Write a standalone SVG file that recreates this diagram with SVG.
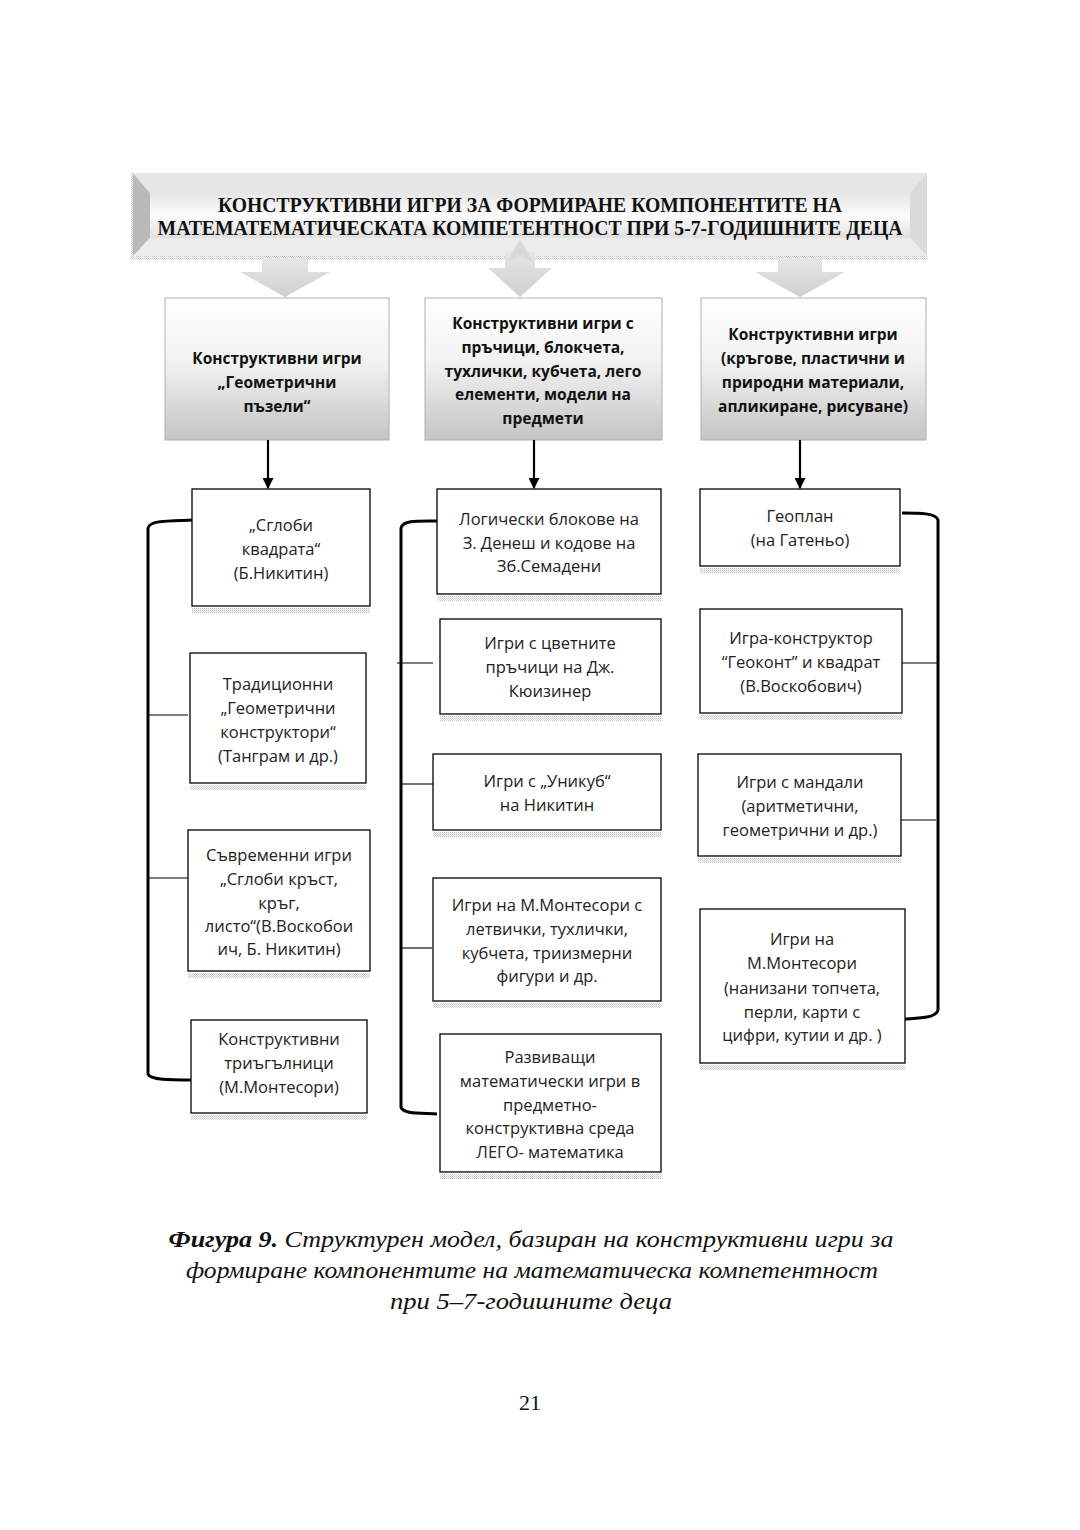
<svg xmlns="http://www.w3.org/2000/svg" width="1080" height="1530" viewBox="0 0 1080 1530">
<defs>
<linearGradient id="hdr" x1="0" y1="0" x2="0" y2="1">
<stop offset="0" stop-color="#ffffff"/><stop offset="0.45" stop-color="#f2f2f2"/><stop offset="1" stop-color="#c4c4c4"/>
</linearGradient>
<linearGradient id="face" x1="0" y1="0" x2="0" y2="1">
<stop offset="0" stop-color="#e6e6e6"/><stop offset="0.5" stop-color="#fcfcfc"/><stop offset="1" stop-color="#e0e0e0"/>
</linearGradient>
<linearGradient id="arr" x1="0" y1="0" x2="0" y2="1">
<stop offset="0" stop-color="#e6e6e6"/><stop offset="1" stop-color="#cfcfcf"/>
</linearGradient>
<pattern id="dots" width="2" height="2" patternUnits="userSpaceOnUse">
<rect width="1" height="1" fill="#8a8a8a"/><rect x="1" y="1" width="1" height="1" fill="#b5b5b5"/>
</pattern>
<marker id="ah" viewBox="0 0 10 10" refX="9" refY="5" markerWidth="5" markerHeight="5" orient="auto" markerUnits="strokeWidth">
<path d="M0,0 L10,5 L0,10 z" fill="#000"/>
</marker>
<style>
.box{fill:#fff;stroke:#000;stroke-width:1.3}
.hbox{fill:url(#hdr);stroke:#b0b0b0;stroke-width:1}
.sh{fill:url(#dots);opacity:0.55}
.t{font-family:"Open Sans","Noto Sans","DejaVu Sans",sans-serif;font-size:16.5px;fill:#222;text-anchor:middle}
.hb{font-family:"Open Sans","Noto Sans","DejaVu Sans",sans-serif;font-size:15.5px;font-weight:bold;fill:#111;text-anchor:middle}
.ban{font-family:"Liberation Serif","Times New Roman",serif;font-size:20px;font-weight:bold;fill:#111;text-anchor:middle}
.cap{font-family:"Liberation Serif","Times New Roman",serif;font-size:23px;font-style:italic;fill:#111;text-anchor:middle}
.br{fill:none;stroke:#000;stroke-width:3}
.tk{fill:none;stroke:#000;stroke-width:1.1}
.ar{fill:none;stroke:#000;stroke-width:2.2}
</style>
</defs>
<rect width="1080" height="1530" fill="#fff"/>

<g id="banner">
<rect x="131" y="256" width="797" height="4" class="sh"/>
<rect x="131" y="172" width="2" height="86" class="sh"/>
<rect x="133" y="173" width="794" height="83" fill="#f4f4f4"/>
<polygon points="133,173 150,193 150,238 133,256" fill="#b9b9b9"/>
<polygon points="133,173 927,173 910,193 150,193" fill="#e6e6e6"/>
<polygon points="927,173 910,193 910,238 927,256" fill="#dadada"/>
<polygon points="133,256 150,238 910,238 927,256" fill="#ececec"/>
<rect x="150" y="193" width="760" height="45" fill="url(#face)"/>
<text class="ban" x="530" y="212" textLength="624" lengthAdjust="spacingAndGlyphs">КОНСТРУКТИВНИ ИГРИ ЗА ФОРМИРАНЕ КОМПОНЕНТИТЕ НА</text>
<text class="ban" x="530" y="235" textLength="745" lengthAdjust="spacingAndGlyphs">МАТЕМАТЕМАТИЧЕСКАТА КОМПЕТЕНТНОСТ ПРИ 5-7-ГОДИШНИТЕ ДЕЦА</text>
</g>

<g id="big-arrows">
<polygon points="262,258 308,258 308,272 330,272 285,297 240,272 262,272" fill="url(#arr)"/>
<polygon points="505,252 535,252 535,268 552,268 520,297 488,268 505,268" fill="url(#arr)"/>
<polygon points="507,262 520,240 533,262 520,256" fill="#d8d8d8"/>
<polygon points="778,258 822,258 822,272 845,272 800,297 755,272 778,272" fill="url(#arr)"/>
</g>

<g id="h1"><rect class="hbox" x="165" y="298" width="224" height="142"/>
<text class="hb" x="277" y="364">Конструктивни игри</text>
<text class="hb" x="277" y="388">„Геометрични</text>
<text class="hb" x="277" y="412">пъзели“</text></g>
<g id="h2"><rect class="hbox" x="425" y="298" width="237" height="142"/>
<text class="hb" x="543" y="329">Конструктивни игри с</text>
<text class="hb" x="543" y="353">пръчици, блокчета,</text>
<text class="hb" x="543" y="377">тухлички, кубчета, лего</text>
<text class="hb" x="543" y="400">елементи, модели на</text>
<text class="hb" x="543" y="424">предмети</text></g>
<g id="h3"><rect class="hbox" x="701" y="298" width="225" height="142"/>
<text class="hb" x="813" y="340">Конструктивни игри</text>
<text class="hb" x="813" y="364">(кръгове, пластични и</text>
<text class="hb" x="813" y="388">природни материали,</text>
<text class="hb" x="813" y="412">апликиране, рисуване)</text></g>

<g id="connectors">
<line class="ar" x1="268" y1="440" x2="268" y2="488" marker-end="url(#ah)"/>
<line class="ar" x1="534" y1="440" x2="534" y2="488" marker-end="url(#ah)"/>
<line class="ar" x1="800" y1="440" x2="800" y2="488" marker-end="url(#ah)"/>
<path class="br" d="M193,520 C170,521 150,520 148,528 L148,1074 C150,1080 170,1080 193,1080"/>
<line class="tk" x1="148" y1="715" x2="188" y2="715"/>
<line class="tk" x1="148" y1="878" x2="188" y2="878"/>
<path class="br" d="M437,521 C418,521 403,520 401,528 L401,1107 C403,1114 418,1113 437,1114"/>
<line class="tk" x1="397" y1="663" x2="433" y2="663"/>
<line class="tk" x1="401" y1="784" x2="433" y2="784"/>
<line class="tk" x1="401" y1="948" x2="432" y2="948"/>
<path class="br" d="M902,513 C920,513 936,513 938,520 L938,1010 C936,1018 920,1018 905,1019"/>
<line class="tk" x1="902" y1="663" x2="938" y2="663"/>
<line class="tk" x1="901" y1="820" x2="936" y2="820"/>
</g>

<g id="l1"><rect class="sh" x="192" y="608" width="178" height="5"/><rect class="box" x="192" y="489" width="178" height="117"/>
<text class="t" x="281" y="531">„Сглоби</text><text class="t" x="281" y="555">квадрата“</text><text class="t" x="281" y="579">(Б.Никитин)</text></g>
<g id="l2"><rect class="sh" x="190" y="785" width="176" height="5"/><rect class="box" x="190" y="653" width="176" height="130"/>
<text class="t" x="278" y="690">Традиционни</text><text class="t" x="278" y="714">„Геометрични</text><text class="t" x="278" y="738">конструктори“</text><text class="t" x="278" y="762">(Танграм и др.)</text></g>
<g id="l3"><rect class="sh" x="188" y="973" width="182" height="5"/><rect class="box" x="188" y="830" width="182" height="141"/>
<text class="t" x="279" y="861">Съвременни игри</text><text class="t" x="279" y="885">„Сглоби кръст,</text><text class="t" x="279" y="909">кръг,</text><text class="t" x="279" y="932">листо“(В.Воскобои</text><text class="t" x="279" y="955">ич, Б. Никитин)</text></g>
<g id="l4"><rect class="sh" x="191" y="1115" width="176" height="5"/><rect class="box" x="191" y="1020" width="176" height="93"/>
<text class="t" x="279" y="1045">Конструктивни</text><text class="t" x="279" y="1069">триъгълници</text><text class="t" x="279" y="1093">(М.Монтесори)</text></g>

<g id="m1"><rect class="sh" x="437" y="596" width="224" height="5"/><rect class="box" x="437" y="489" width="224" height="105"/>
<text class="t" x="549" y="525">Логически блокове на</text><text class="t" x="549" y="549">З. Денеш и кодове на</text><text class="t" x="549" y="572">Зб.Семадени</text></g>
<g id="m2"><rect class="sh" x="440" y="716" width="221" height="5"/><rect class="box" x="440" y="619" width="221" height="95"/>
<text class="t" x="550" y="649">Игри с цветните</text><text class="t" x="550" y="673">пръчици на Дж.</text><text class="t" x="550" y="697">Кюизинер</text></g>
<g id="m3"><rect class="sh" x="433" y="832" width="228" height="5"/><rect class="box" x="433" y="754" width="228" height="76"/>
<text class="t" x="547" y="787">Игри с „Уникуб“</text><text class="t" x="547" y="811">на Никитин</text></g>
<g id="m4"><rect class="sh" x="433" y="1003" width="228" height="5"/><rect class="box" x="433" y="878" width="228" height="123"/>
<text class="t" x="547" y="911">Игри на М.Монтесори с</text><text class="t" x="547" y="935">летвички, тухлички,</text><text class="t" x="547" y="959">кубчета, триизмерни</text><text class="t" x="547" y="982">фигури и др.</text></g>
<g id="m5"><rect class="sh" x="440" y="1174" width="221" height="5"/><rect class="box" x="440" y="1034" width="221" height="138"/>
<text class="t" x="550" y="1063">Развиващи</text><text class="t" x="550" y="1087">математически игри в</text><text class="t" x="550" y="1111">предметно-</text><text class="t" x="550" y="1134">конструктивна среда</text><text class="t" x="550" y="1158">ЛЕГО- математика</text></g>

<g id="r1"><rect class="sh" x="700" y="568" width="200" height="5"/><rect class="box" x="700" y="489" width="200" height="77"/>
<text class="t" x="800" y="522">Геоплан</text><text class="t" x="800" y="546">(на Гатеньо)</text></g>
<g id="r2"><rect class="sh" x="700" y="715" width="202" height="5"/><rect class="box" x="700" y="609" width="202" height="104"/>
<text class="t" x="801" y="644">Игра-конструктор</text><text class="t" x="801" y="668">“Геоконт” и квадрат</text><text class="t" x="801" y="692">(В.Воскобович)</text></g>
<g id="r3"><rect class="sh" x="698" y="858" width="203" height="5"/><rect class="box" x="698" y="754" width="203" height="102"/>
<text class="t" x="800" y="788">Игри с мандали</text><text class="t" x="800" y="812">(аритметични,</text><text class="t" x="800" y="836">геометрични и др.)</text></g>
<g id="r4"><rect class="sh" x="700" y="1065" width="205" height="5"/><rect class="box" x="700" y="909" width="205" height="154"/>
<text class="t" x="802" y="945">Игри на</text><text class="t" x="802" y="969">М.Монтесори</text><text class="t" x="802" y="994">(нанизани топчета,</text><text class="t" x="802" y="1018">перли, карти с</text><text class="t" x="802" y="1041">цифри, кутии и др. )</text></g>

<g id="caption">
<text class="cap" x="531" y="1247" textLength="725" lengthAdjust="spacingAndGlyphs"><tspan font-weight="bold">Фигура 9.</tspan> Структурен модел, базиран на конструктивни игри за</text>
<text class="cap" x="532" y="1278" textLength="692" lengthAdjust="spacingAndGlyphs">формиране компонентите на математическа компетентност</text>
<text class="cap" x="531" y="1309" textLength="282" lengthAdjust="spacingAndGlyphs">при 5–7-годишните деца</text>
<text x="530" y="1410" font-family="Liberation Serif, serif" font-size="22" fill="#111" text-anchor="middle">21</text>
</g>
</svg>
